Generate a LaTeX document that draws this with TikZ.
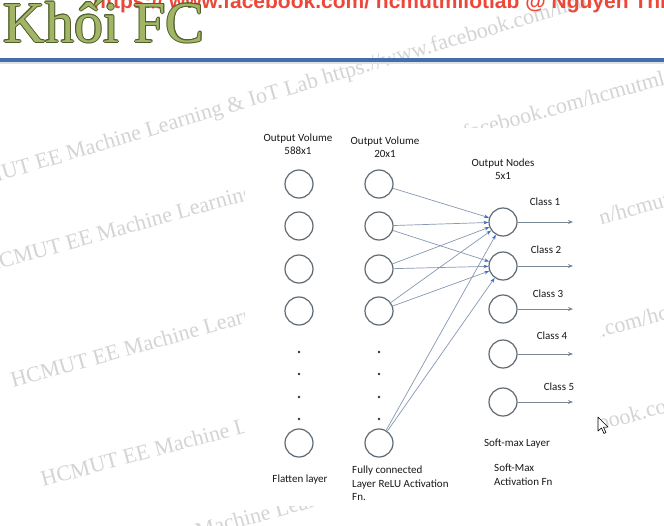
\documentclass[tikz,border=0pt]{standalone}
\usepackage{fontspec}
\setmainfont{Carlito}
\newfontfamily\serifwm{Liberation Serif}
\newfontfamily\headsans{Liberation Sans}
\usepackage{tikz}
\usetikzlibrary{arrows.meta}
\definecolor{ringgray}{RGB}{95,105,115}
\definecolor{linkblue}{RGB}{135,152,180}
\definecolor{tipblue}{RGB}{55,110,205}
\definecolor{arrowgray}{RGB}{120,135,150}
\definecolor{barblue}{RGB}{65,110,175}
\definecolor{titlefill}{RGB}{162,180,102}
\definecolor{titleedge}{RGB}{80,95,42}
\definecolor{wmgray}{RGB}{212,212,212}
\definecolor{urlred}{RGB}{236,72,58}

\begin{document}
\begin{tikzpicture}[x=1pt,y=-1pt,
    neuron/.style={circle,draw=ringgray,line width=1.2pt,minimum size=28pt,inner sep=0pt},
    link/.style={draw=linkblue,line width=0.7pt,-{Stealth[length=5pt,width=3.5pt,color=tipblue]}},
    outarrow/.style={draw=arrowgray,line width=0.9pt,-{Stealth[length=5pt,width=4pt]}},
    lbl/.style={font=\fontsize{11}{13.5}\selectfont,text=black!90,inner sep=0pt},
    wm/.style={font=\serifwm\fontsize{22}{22}\selectfont,text=wmgray,anchor=base west,inner sep=0pt},
    dotmark/.style={circle,fill=black!80,inner sep=0pt,minimum size=2.6pt}]
\useasboundingbox (0,0) rectangle (664,525);
\fill[white] (0,0) rectangle (664,525);

% watermark
\begin{scope}
\clip (0,0) rectangle (664,525);
\foreach \x/\y/\a [count=\k] in {-44/194/16.5,-14/273/15.5,13/388/15.5,43/487/15,84/569/15}
  \node[wm,rotate=\a] (wm\k) at (\x,\y) {HCMUT EE Machine Learning \& IoT Lab https://www.facebook.com/hcmutmliotlab};
\end{scope}

% header
\node[anchor=base west,inner sep=0pt,text=urlred,font=\headsans\bfseries\fontsize{21}{21}\selectfont] (url) at (93,8)
  {https:// www.facebook.com/ hcmutmliotlab @ Nguyễn Thiện Đức};
\foreach \dx/\dy in {-1/0,1/0,0/-1,0/1,-0.7/-0.7,0.7/0.7,-0.7/0.7,0.7/-0.7}
  \node[anchor=base west,inner sep=0pt,text=titleedge,font=\serifwm\fontsize{58}{58}\selectfont] at (3+\dx,42+\dy) {Khối FC};
\node[anchor=base west,inner sep=0pt,text=titlefill,font=\serifwm\fontsize{58}{58}\selectfont] (title) at (3,42) {Khối FC};
\fill[black!12] (0,61.5) rectangle (664,63.5);
\fill[barblue] (0,58) rectangle (664,61.5);

% figure
\fill[white] (245,128) rectangle (600,506);

\foreach \n/\y in {1/184,2/226,3/269,4/311,5/443} {
  \node[neuron] (f\n) at (299,\y) {};
  \node[neuron] (h\n) at (379,\y) {};
}
\foreach \n/\y in {1/222,2/266,3/309,4/354,5/402}
  \node[neuron] (o\n) at (503,\y) {};
\foreach \y [count=\k] in {352,374,397,419} {
  \node[dotmark] (fd\k) at (299,\y) {};
  \node[dotmark] (hd\k) at (379,\y) {};
}

\node[lbl,align=center] (flab) at (298,144) {Output Volume\\588x1};
\node[lbl,align=center] (hlab) at (385,147) {Output Volume\\20x1};
\node[lbl,align=center] (olab) at (503,169) {Output Nodes\\5x1};
\node[lbl] (flat) at (300,480) {Flatten layer};
\node[lbl,align=left,anchor=north west] (fcl) at (352,466) {Fully connected\\Layer ReLU Activation\\Fn.};
\node[lbl] (smax) at (517,444) {Soft-max Layer};
\node[lbl,align=left,anchor=north west] (sact) at (494,464) {Soft-Max\\Activation Fn};

\foreach \n/\x/\y in {1/545/202,2/546/250,3/548/294,4/552/336,5/559/387}
  \node[lbl] (cls\n) at (\x,\y) {Class \n};
\foreach \n/\y in {1/222,2/266,3/309,4/354,5/402} {
  \coordinate (e\n) at (573,\y);
  \draw[outarrow] (o\n) -- (e\n);
}

\foreach \i in {1,...,5}
  \draw[link] (h\i) -- (o1);
\foreach \i in {2,...,5}
  \draw[link] (h\i) -- (o2);

% cursor
\draw[black,fill=white,line width=0.6pt,line join=round] (598,417) -- (598,431) -- (601.5,428) -- (604,433.5) -- (606,432.5) -- (603.5,427.2) -- (608,427) -- cycle;
\end{tikzpicture}
\end{document}
